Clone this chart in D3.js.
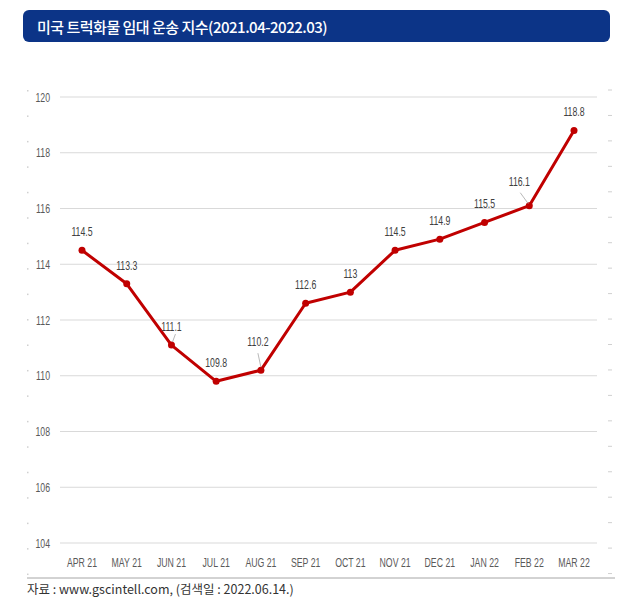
<!DOCTYPE html>
<html>
<head>
<meta charset="utf-8">
<script src="https://cdn.jsdelivr.net/npm/d3@7"></script>
<style>
  body { margin: 0; background: #fff; }
  svg { display: block; }
</style>
</head>
<body>
<svg id="chart" width="633" height="613"></svg>
<script>
(function() {

var months = ["APR 21", "MAY 21", "JUN 21", "JUL 21", "AUG 21", "SEP 21",
              "OCT 21", "NOV 21", "DEC 21", "JAN 22", "FEB 22", "MAR 22"];
var values = [114.5, 113.3, 111.1, 109.8, 110.2, 112.6, 113, 114.5, 114.9, 115.5, 116.1, 118.8];
var labels = ["114.5", "113.3", "111.1", "109.8", "110.2", "112.6", "113", "114.5", "114.9", "115.5", "116.1", "118.8"];
var yTicks = [104, 106, 108, 110, 112, 114, 116, 118, 120];
var leaderIdx = [2, 4, 10];   // labels pulled aside with a leader line

var font = "'Liberation Sans', Arial, sans-serif";
var squeeze = 0.7;   // fake a narrow face

var svg = d3.select("#chart");

// narrow text: place with translate, squeeze horizontally
function narrowText(sel, xf, yf) {
    sel.attr("x", 0).attr("y", 0)
        .attr("transform", (d, i) => "translate(" + xf(d, i) + "," + yf(d, i) + ") scale(" + squeeze + ",1)")
        .attr("font-family", font)
        .attr("font-size", 12.5)
        .attr("fill", "#595959");
}

// title bar
svg.append("rect")
    .attr("x", 23).attr("y", 10)
    .attr("width", 587).attr("height", 32)
    .attr("rx", 6)
    .attr("fill", "#0c3487");
svg.append("text")
    .attr("x", 37).attr("y", 26)
    .attr("dominant-baseline", "central")
    .attr("fill", "#fff")
    .attr("font-family", "'Noto Sans CJK KR', sans-serif")
    .attr("font-size", 15)
    .attr("font-weight", 500)
    .attr("letter-spacing", -0.5)
    .text("미국 트럭화물 임대 운송 지수(2021.04-2022.03)");

var x = d3.scalePoint().domain(months).range([82, 574]);
var y = d3.scaleLinear().domain([104, 120]).range([543, 97]);

// faint chart-area handles on both sides
var handles = d3.range(90, 575, 25.45);
svg.append("g").selectAll("rect")
    .data(handles)
    .join("rect")
    .attr("x", 27).attr("y", d => d)
    .attr("width", 1.5).attr("height", 1.5)
    .attr("fill", "#d0d0d0");
svg.append("g").selectAll("line")
    .data(handles)
    .join("line")
    .attr("x1", 608).attr("x2", 612)
    .attr("y1", d => d).attr("y2", d => d)
    .attr("stroke", "#d0d0d0");

// grid
svg.append("g").selectAll("line")
    .data(yTicks)
    .join("line")
    .attr("x1", 60).attr("x2", 597)
    .attr("y1", d => y(d)).attr("y2", d => y(d))
    .attr("stroke", "#d9d9d9")
    .attr("stroke-width", 1);

// y axis labels
svg.append("g").selectAll("text")
    .data(yTicks)
    .join("text")
    .attr("text-anchor", "end")
    .attr("dominant-baseline", "central")
    .call(narrowText, () => 50, d => y(d))
    .text(d => d);

// x axis labels
svg.append("g").selectAll("text")
    .data(months)
    .join("text")
    .attr("text-anchor", "middle")
    .attr("dominant-baseline", "central")
    .call(narrowText, d => x(d), () => 562)
    .text(d => d);

// line
var line = d3.line()
    .x((d, i) => x(months[i]))
    .y(d => y(d));
svg.append("path")
    .datum(values)
    .attr("fill", "none")
    .attr("stroke", "#c00000")
    .attr("stroke-width", 3)
    .attr("stroke-linejoin", "round")
    .attr("d", line);

svg.append("g").selectAll("circle")
    .data(values)
    .join("circle")
    .attr("cx", (d, i) => x(months[i]))
    .attr("cy", d => y(d))
    .attr("r", 3.5)
    .attr("fill", "#c00000");

// leader lines
var leader = {2: [4, -11, 1, -3], 4: [-3, -17, 0, -3], 10: [-9, -13, -1, -2]};
svg.append("g").selectAll("line")
    .data(leaderIdx)
    .join("line")
    .attr("x1", i => x(months[i]) + leader[i][0])
    .attr("y1", i => y(values[i]) + leader[i][1])
    .attr("x2", i => x(months[i]) + leader[i][2])
    .attr("y2", i => y(values[i]) + leader[i][3])
    .attr("stroke", "#a6a6a6")
    .attr("stroke-width", 0.8);

// data labels
var labelShift = {4: [-3, -24], 10: [-10, -20]};
svg.append("g").selectAll("text")
    .data(labels)
    .join("text")
    .attr("text-anchor", "middle")
    .call(narrowText,
        (d, i) => x(months[i]) + (labelShift[i] ? labelShift[i][0] : 0),
        (d, i) => y(values[i]) + (labelShift[i] ? labelShift[i][1] : -14))
    .attr("fill", "#404040")
    .text(d => d);

// bottom rule and source
svg.append("line")
    .attr("x1", 27).attr("x2", 615)
    .attr("y1", 578).attr("y2", 578)
    .attr("stroke", "#a6a6a6")
    .attr("stroke-width", 1);
svg.append("text")
    .attr("x", 27).attr("y", 594)
    .attr("font-family", "'Noto Sans CJK KR', sans-serif")
    .attr("font-size", 12.5)
    .attr("fill", "#333")
    .text("자료 : www.gscintell.com,  (검색일  :  2022.06.14.)");

})()
</script>
</body>
</html>
